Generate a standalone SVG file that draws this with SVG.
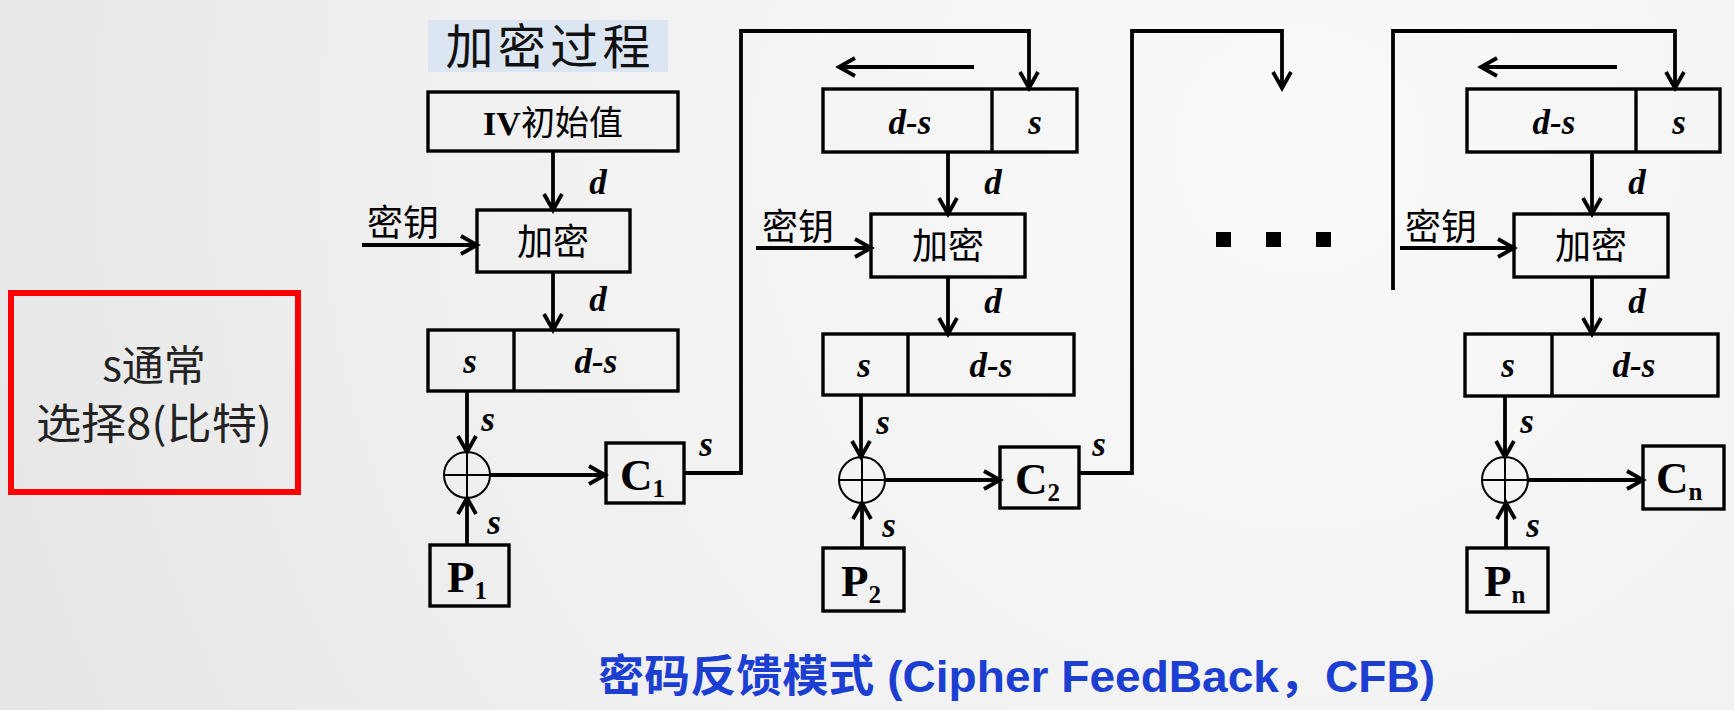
<svg xmlns="http://www.w3.org/2000/svg" width="1734" height="710" viewBox="0 0 1734 710">
<defs>
<radialGradient id="bg" cx="1300" cy="150" r="1400" gradientUnits="userSpaceOnUse">
<stop offset="0" stop-color="#fafafa"/>
<stop offset="0.6" stop-color="#f0f0f0"/>
<stop offset="1" stop-color="#e6e6e6"/>
</radialGradient>
<marker id="ah" viewBox="-20 -12 24 24" refX="0" refY="0" markerWidth="24" markerHeight="24" markerUnits="userSpaceOnUse" orient="auto">
<path d="M-16,-9 L0,0 L-16,9" fill="none" stroke="#000" stroke-width="3.8" stroke-linejoin="miter"/>
</marker>
<style>
.box{fill:none;stroke:#000;stroke-width:3.4}
.ln{fill:none;stroke:#000;stroke-width:3.8}
.arr{fill:none;stroke:#000;stroke-width:3.8;marker-end:url(#ah)}
.xor{fill:none;stroke:#000;stroke-width:2}
.xl{fill:none;stroke:#000;stroke-width:2}
.var{font-family:"Liberation Serif",serif;font-style:italic;font-weight:bold;font-size:35px;fill:#000;text-anchor:middle}
.cjk{font-family:"Noto Sans CJK SC",sans-serif;font-size:36px;fill:#000}
.mid{text-anchor:middle}
.big{font-family:"Liberation Serif",serif;font-weight:bold;font-size:45px;fill:#000}
.sub{font-size:25px}
.dot{fill:#000}
</style>
</defs>
<rect x="0" y="0" width="1734" height="710" fill="url(#bg)"/>

<g id="note">
<rect x="11" y="293" width="287" height="199" fill="none" stroke="#ff0000" stroke-width="6"/>
<text x="154" y="381" text-anchor="middle" font-family="Noto Sans CJK SC, sans-serif" font-size="42" fill="#222">s通常</text>
<text x="154" y="439" text-anchor="middle" font-family="Noto Sans CJK SC, sans-serif" font-size="42" fill="#222" textLength="236" lengthAdjust="spacingAndGlyphs">选择8(比特)</text>
</g>

<g id="label-process">
<rect x="428" y="20" width="240" height="52" fill="#dce6f2"/>
<text x="548" y="64" text-anchor="middle" font-family="Noto Sans CJK SC, sans-serif" font-size="48" fill="#111" textLength="205" lengthAdjust="spacing">加密过程</text>
</g>

<g id="connectors">
<line class="arr" x1="553" y1="151" x2="553" y2="210"/>
<line class="arr" x1="362" y1="245" x2="477" y2="245"/>
<line class="arr" x1="553" y1="272" x2="553" y2="330"/>
<line class="arr" x1="467" y1="392" x2="467" y2="452"/>
<line class="arr" x1="467" y1="545" x2="467" y2="498"/>
<line class="arr" x1="490" y1="475" x2="605" y2="475"/>
<polyline class="arr" points="684,473 741,473 741,31 1029,31 1029,88"/>
<line class="arr" x1="974" y1="67" x2="839" y2="67"/>
<line class="arr" x1="948" y1="152" x2="948" y2="214"/>
<line class="arr" x1="756" y1="248" x2="871" y2="248"/>
<line class="arr" x1="948" y1="277" x2="948" y2="334"/>
<line class="arr" x1="861" y1="395" x2="861" y2="457"/>
<line class="arr" x1="862" y1="548" x2="862" y2="503"/>
<line class="arr" x1="885" y1="480" x2="1000" y2="480"/>
<polyline class="arr" points="1079,473 1132,473 1132,31 1282,31 1282,88"/>
<polyline class="ln" points="1393,290 1393,31 1675,31"/>
<line class="arr" x1="1675" y1="29.1" x2="1675" y2="88"/>
<line class="arr" x1="1617" y1="67" x2="1481" y2="67"/>
<line class="arr" x1="1592" y1="152" x2="1592" y2="214"/>
<line class="arr" x1="1400" y1="248" x2="1514" y2="248"/>
<line class="arr" x1="1592" y1="277" x2="1592" y2="334"/>
<line class="arr" x1="1505" y1="396" x2="1505" y2="457"/>
<line class="arr" x1="1506" y1="548" x2="1506" y2="503"/>
<line class="arr" x1="1528" y1="480" x2="1643" y2="480"/>
</g>

<g id="col1">
<g id="iv1">
<rect class="box" x="428" y="92" width="250" height="59"/>
<text x="553" y="135" text-anchor="middle" font-size="34" fill="#000"><tspan font-family="Liberation Serif, serif" font-weight="bold">IV</tspan><tspan font-family="Noto Sans CJK SC, sans-serif">初始值</tspan></text>
</g>
<text class="var" x="598" y="194">d</text>
<text class="cjk" x="367" y="236">密钥</text>
<g id="enc1">
<rect class="box" x="477" y="210" width="153" height="62"/>
<text class="cjk mid" x="553" y="255">加密</text>
</g>
<text class="var" x="598" y="311">d</text>
<g id="reg1">
<rect class="box" x="428" y="330" width="250" height="61"/>
<line class="box" x1="514" y1="330" x2="514" y2="391"/>
<text class="var" x="470" y="373">s</text>
<text class="var" x="596" y="373">d-s</text>
</g>
<text class="var" x="488" y="431">s</text>
<g id="xor1">
<ellipse class="xor" cx="467" cy="475" rx="23" ry="23"/>
<line class="xl" x1="444" y1="475" x2="490" y2="475"/>
<line class="xl" x1="467" y1="452" x2="467" y2="498"/>
</g>
<text class="var" x="494" y="534">s</text>
<g id="c1">
<rect class="box" x="606" y="443" width="78" height="60"/>
<text class="big" x="620" y="490">C<tspan class="sub" dy="7">1</tspan></text>
</g>
<text class="var" x="706" y="456">s</text>
<g id="p1">
<rect class="box" x="430" y="545" width="79" height="61"/>
<text class="big" x="447" y="592">P<tspan class="sub" dy="7">1</tspan></text>
</g>
</g>

<g id="col2">
<g id="reg2a">
<rect class="box" x="823" y="89" width="254" height="63"/>
<line class="box" x1="992" y1="89" x2="992" y2="152"/>
<text class="var" x="910" y="134">d-s</text>
<text class="var" x="1035" y="134">s</text>
</g>
<text class="var" x="993" y="194">d</text>
<text class="cjk" x="762" y="240">密钥</text>
<g id="enc2">
<rect class="box" x="871" y="214" width="154" height="63"/>
<text class="cjk mid" x="948" y="259">加密</text>
</g>
<text class="var" x="993" y="313">d</text>
<g id="reg2b">
<rect class="box" x="823" y="334" width="251" height="61"/>
<line class="box" x1="908" y1="334" x2="908" y2="395"/>
<text class="var" x="864" y="377">s</text>
<text class="var" x="991" y="377">d-s</text>
</g>
<text class="var" x="883" y="434">s</text>
<g id="xor2">
<ellipse class="xor" cx="862" cy="480" rx="23" ry="23"/>
<line class="xl" x1="839" y1="480" x2="885" y2="480"/>
<line class="xl" x1="862" y1="457" x2="862" y2="503"/>
</g>
<text class="var" x="889" y="537">s</text>
<g id="c2">
<rect class="box" x="1000" y="447" width="79" height="61"/>
<text class="big" x="1015" y="494">C<tspan class="sub" dy="7">2</tspan></text>
</g>
<text class="var" x="1099" y="456">s</text>
<g id="p2">
<rect class="box" x="823" y="548" width="81" height="63"/>
<text class="big" x="841" y="596">P<tspan class="sub" dy="7">2</tspan></text>
</g>
</g>

<g id="ellipsis">
<rect class="dot" x="1216" y="232" width="15" height="15"/>
<rect class="dot" x="1266" y="232" width="15" height="15"/>
<rect class="dot" x="1316" y="232" width="15" height="15"/>
</g>

<g id="coln">
<g id="regna">
<rect class="box" x="1467" y="89" width="253" height="63"/>
<line class="box" x1="1636" y1="89" x2="1636" y2="152"/>
<text class="var" x="1554" y="134">d-s</text>
<text class="var" x="1679" y="134">s</text>
</g>
<text class="var" x="1637" y="194">d</text>
<text class="cjk" x="1405" y="240">密钥</text>
<g id="encn">
<rect class="box" x="1514" y="214" width="154" height="63"/>
<text class="cjk mid" x="1591" y="259">加密</text>
</g>
<text class="var" x="1637" y="313">d</text>
<g id="regnb">
<rect class="box" x="1465" y="334" width="253" height="62"/>
<line class="box" x1="1552" y1="334" x2="1552" y2="396"/>
<text class="var" x="1508" y="377">s</text>
<text class="var" x="1634" y="377">d-s</text>
</g>
<text class="var" x="1527" y="433">s</text>
<g id="xorn">
<ellipse class="xor" cx="1505" cy="480" rx="23" ry="23"/>
<line class="xl" x1="1482" y1="480" x2="1528" y2="480"/>
<line class="xl" x1="1505" y1="457" x2="1505" y2="503"/>
</g>
<text class="var" x="1533" y="537">s</text>
<g id="cn">
<rect class="box" x="1643" y="446" width="81" height="63"/>
<text class="big" x="1656" y="493">C<tspan class="sub" dy="7">n</tspan></text>
</g>
<g id="pn">
<rect class="box" x="1467" y="548" width="81" height="64"/>
<text class="big" x="1484" y="596">P<tspan class="sub" dy="7">n</tspan></text>
</g>
</g>

<g id="title">
<text x="598" y="692" font-family="Liberation Sans, Noto Sans CJK SC, sans-serif" font-weight="bold" font-size="44" fill="#1c3fd1" textLength="837" lengthAdjust="spacingAndGlyphs">密码反馈模式 (Cipher FeedBack，CFB)</text>
</g>
</svg>
